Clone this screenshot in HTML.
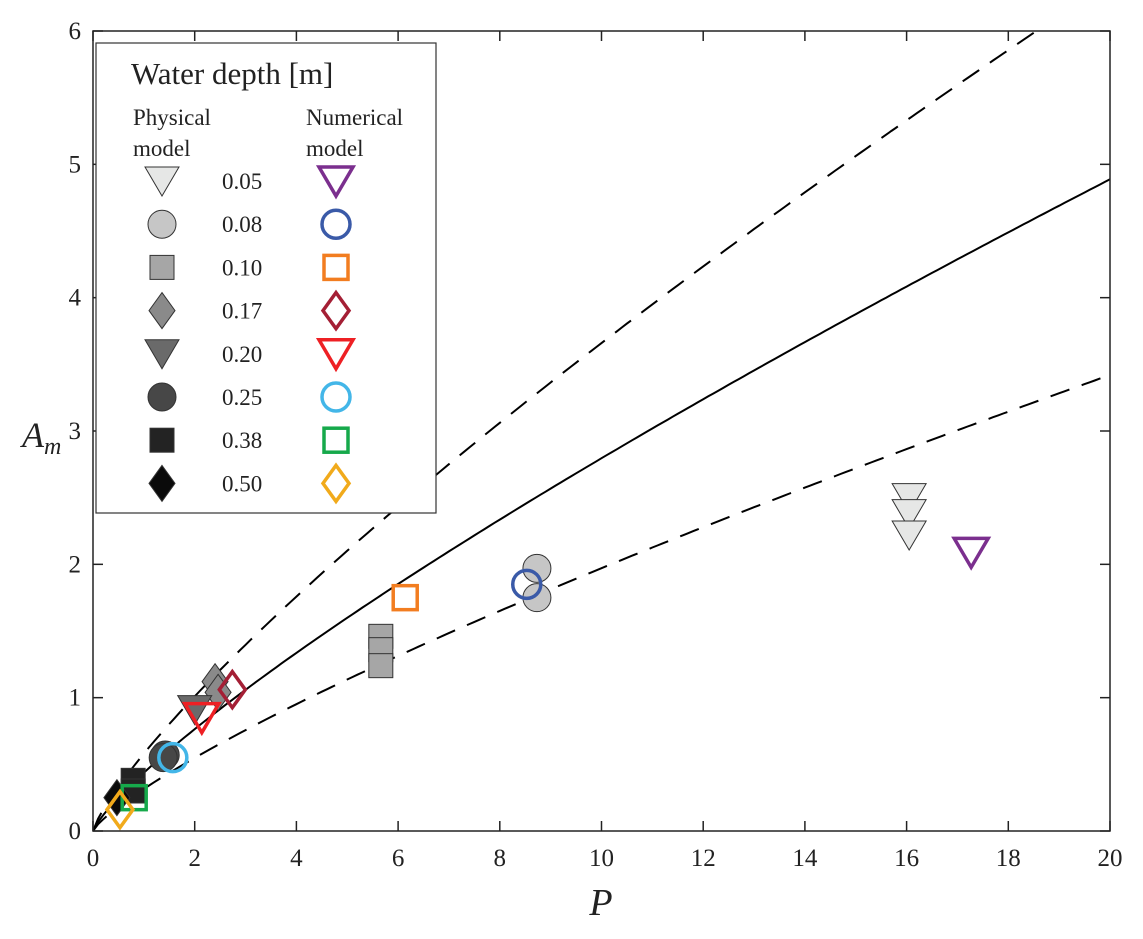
<!DOCTYPE html>
<html><head><meta charset="utf-8"><style>
body{margin:0;background:#fff}
svg text{font-family:"Liberation Serif",serif;fill:#222}
</style></head><body>
<svg id="c" width="1143" height="934" xmlns="http://www.w3.org/2000/svg">
<defs><clipPath id="pc"><rect x="93" y="31" width="1017" height="800"/></clipPath></defs>
<rect x="0" y="0" width="1143" height="934" fill="#fff"/>
<g id="curves" clip-path="url(#pc)"></g>
<g id="marks"></g>
<rect x="93" y="31" width="1017" height="800" fill="none" stroke="#222" stroke-width="1.5"/>
<g id="ticks"></g>
<text x="601" y="915" font-size="38" font-style="italic" text-anchor="middle">P</text>
<text x="22" y="447" font-size="36" font-style="italic">A<tspan font-size="24" dy="7">m</tspan></text>
<g id="legend"></g>
</svg>
<script>
const xTicks=[0,2,4,6,8,10,12,14,16,18,20];
const yTicks=[0,1,2,3,4,5,6];
const depths=["0.05","0.08","0.10","0.17","0.20","0.25","0.38","0.50"];
const physP=[16.05,16.05,16.05,8.73,8.73,5.66,5.66,5.66,2.40,2.46,2.0,1.42,1.38,0.79,0.79,0.47];
const physA=[2.50,2.38,2.22,1.97,1.75,1.46,1.36,1.24,1.12,1.04,0.91,0.57,0.55,0.38,0.30,0.25];
const physD=[0,0,0,1,1,2,2,2,3,3,4,5,5,6,6,7];
const numP=[17.27,8.53,6.14,2.74,2.14,1.57,0.81,0.53];
const numA=[2.09,1.85,1.75,1.06,0.85,0.55,0.25,0.16];
const curveCoef=[0.437,0.58,0.316];
const curveExp=[0.806,0.80,0.795];
const NS="http://www.w3.org/2000/svg";
const X=p=>93+p*1017/20, Y=a=>831-a*800/6;
const shapes=["tri","circ","sq","dia","tri","circ","sq","dia"];
const physFill=["#e6e7e6","#c6c6c6","#a6a6a6","#8a8a8a","#6a6a6a","#474747","#232323","#0a0a0a"];
const numCol=["#7b2f8e","#3a5aa8","#f27d20","#a41f35","#ee2024","#43b6e8","#16a94b","#f1aa1b"];
function mk(t,a){const e=document.createElementNS(NS,t);for(const k in a)e.setAttribute(k,a[k]);return e;}
function marker(shape,cx,cy,fill,stroke,sw){
 let e;
 if(shape==="tri") e=mk("polygon",{points:`${cx-17},${cy-14} ${cx+17},${cy-14} ${cx},${cy+15}`});
 else if(shape==="circ") e=mk("circle",{cx:cx,cy:cy,r:14});
 else if(shape==="sq") e=mk("rect",{x:cx-12,y:cy-12,width:24,height:24});
 else e=mk("polygon",{points:`${cx},${cy-18} ${cx+13},${cy} ${cx},${cy+18} ${cx-13},${cy}`});
 e.setAttribute("fill",fill);e.setAttribute("stroke",stroke);e.setAttribute("stroke-width",sw);
 return e;
}
const cg=document.getElementById("curves");
const cn=["fit-line","upper-bound-line","lower-bound-line"];
for(let i=0;i<3;i++){
 let d="";
 for(let p=0;p<=20.001;p+=0.1){const a=curveCoef[i]*Math.pow(p,curveExp[i]);if(a>6.3)break;d+=(d?"L":"M")+X(p).toFixed(1)+","+Y(a).toFixed(1);}
 const e=mk("path",{d:d,fill:"none",stroke:"#000","stroke-width":2});
 if(i>0)e.setAttribute("stroke-dasharray","20,13");
 
 
 cg.appendChild(e);
}
const mg=document.getElementById("marks");
for(let i=0;i<physP.length;i++){
 const d=physD[i];
 const e=marker(shapes[d],X(physP[i]),Y(physA[i]),physFill[d],"#333",1);
 
 
 mg.appendChild(e);
}
for(let i=0;i<numP.length;i++){
 const e=marker(shapes[i],X(numP[i]),Y(numA[i]),"none",numCol[i],3.5);
 
 
 mg.appendChild(e);
}
const tg=document.getElementById("ticks");
xTicks.forEach(v=>{
 const x=X(v);
 tg.appendChild(mk("line",{x1:x,y1:831,x2:x,y2:821,stroke:"#222","stroke-width":1.5}));
 tg.appendChild(mk("line",{x1:x,y1:31,x2:x,y2:41,stroke:"#222","stroke-width":1.5}));
 const t=mk("text",{x:x,y:866,"font-size":25,"text-anchor":"middle"});t.textContent=v;
 
 
 tg.appendChild(t);
});
yTicks.forEach(v=>{
 const y=Y(v);
 tg.appendChild(mk("line",{x1:93,y1:y,x2:103,y2:y,stroke:"#222","stroke-width":1.5}));
 tg.appendChild(mk("line",{x1:1110,y1:y,x2:1100,y2:y,stroke:"#222","stroke-width":1.5}));
 const t=mk("text",{x:81,y:y+8,"font-size":25,"text-anchor":"end"});t.textContent=v;
 
 
 tg.appendChild(t);
});
const lg=document.getElementById("legend");
lg.appendChild(mk("rect",{x:96,y:43,width:340,height:470,fill:"#fff",stroke:"#333","stroke-width":1.2}));
function txt(s,x,y,fs,nm){const t=mk("text",{x:x,y:y,"font-size":fs});t.textContent=s;lg.appendChild(t);}
txt("Water depth [m]",131,84,31,"legend-title");
txt("Physical",133,125,23,"legend-physical-header");
txt("model",133,156,23,"legend-physical-header");
txt("Numerical",306,125,23,"legend-numerical-header");
txt("model",306,156,23,"legend-numerical-header");
depths.forEach((d,i)=>{
 const y=181+i*43.2;
 const a=marker(shapes[i],162,y,physFill[i],"#333",1);
 
 
 lg.appendChild(a);
 txt(d,222,y+8,23,"legend-depth-label");
 const b=marker(shapes[i],336,y,"none",numCol[i],3.5);
 
 
 lg.appendChild(b);
});
</script>
</body></html>
